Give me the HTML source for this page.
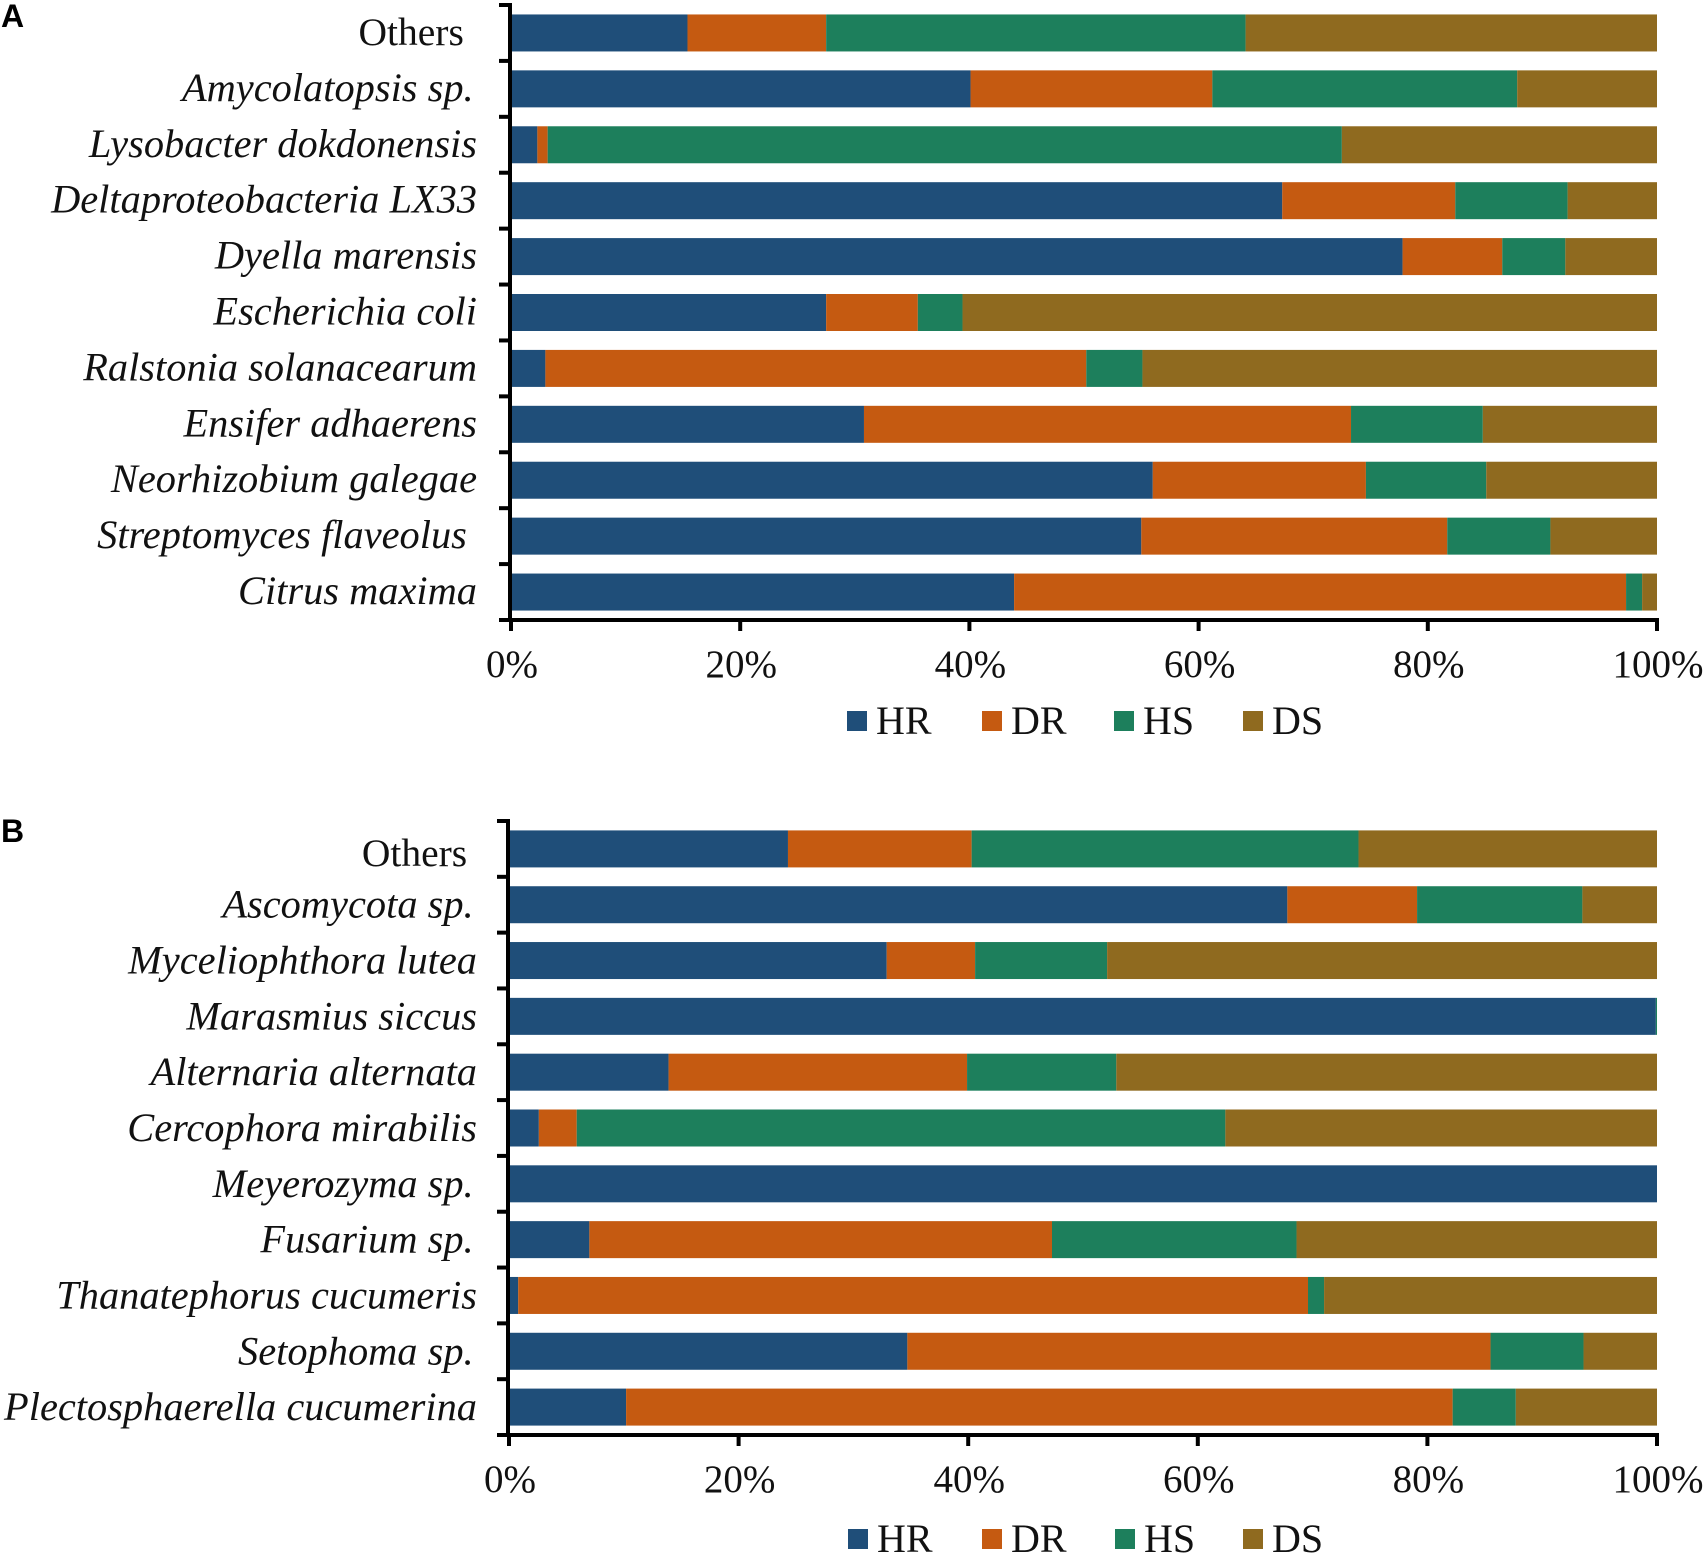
<!DOCTYPE html>
<html>
<head>
<meta charset="utf-8">
<title>Stacked bar charts</title>
<style>
html,body{margin:0;padding:0;background:#fff;}
svg{display:block;}
text{font-family:"Liberation Serif",serif;fill:#111;}
</style>
</head>
<body>
<svg id="figure" width="1708" height="1557" viewBox="0 0 1708 1557" xmlns="http://www.w3.org/2000/svg"></svg>
<script>
const seriesNames = ['HR', 'DR', 'HS', 'DS'];
const seriesColors = ['#1f4e79', '#c55a11', '#1d7f5c', '#8f6a1f'];
const xTicks = [0, 20, 40, 60, 80, 100];

const categoriesA = ['Others\u00a0\u200a', 'Amycolatopsis sp.\u200a', 'Lysobacter dokdonensis', 'Deltaproteobacteria LX33', 'Dyella marensis', 'Escherichia coli', 'Ralstonia solanacearum', 'Ensifer adhaerens', 'Neorhizobium galegae', 'Streptomyces flaveolus\u00a0', 'Citrus maxima'];
const hrA = [15.4, 40.1, 2.3, 67.3, 77.8, 27.5, 3.0, 30.8, 56.0, 55.0, 43.9];
const drA = [12.1, 21.1, 0.9, 15.1, 8.7, 8.0, 47.2, 42.5, 18.6, 26.7, 53.4];
const hsA = [36.6, 26.6, 69.3, 9.8, 5.5, 3.9, 4.9, 11.5, 10.5, 9.0, 1.4];
const dsA = [35.9, 12.2, 27.5, 7.8, 8.0, 60.6, 44.9, 15.2, 14.9, 9.3, 1.3];

const categoriesB = ['Others\u00a0', 'Ascomycota sp.\u200a', 'Myceliophthora lutea', 'Marasmius siccus', 'Alternaria alternata', 'Cercophora mirabilis', 'Meyerozyma sp.\u200a', 'Fusarium sp.\u200a', 'Thanatephorus cucumeris', 'Setophoma sp.\u200a', 'Plectosphaerella cucumerina'];
const hrB = [24.3, 67.8, 32.9, 99.9, 13.9, 2.6, 100, 7.0, 0.8, 34.7, 10.2];
const drB = [16.0, 11.3, 7.7, 0, 26.0, 3.3, 0, 40.3, 68.8, 50.8, 72.0];
const hsB = [33.7, 14.4, 11.5, 0.1, 13.0, 56.5, 0, 21.3, 1.4, 8.1, 5.5];
const dsB = [26.0, 6.5, 47.9, 0, 47.1, 37.6, 0, 31.4, 29.0, 6.4, 12.3];

const SVG_NS = 'http://www.w3.org/2000/svg';
const svg = document.getElementById('figure');

function make(parent, tag, attrs, text) {
  const el = document.createElementNS(SVG_NS, tag);
  for (const k in attrs) el.setAttribute(k, attrs[k]);
  if (text !== undefined) el.textContent = text;
  parent.appendChild(el);
  return el;
}

function slug(s) {
  return s.trim().toLowerCase().replace(/[^a-z0-9]+/g, '-');
}

function drawPanel(panelId, letter, letterY, box, categories, series) {
  const group = make(svg, 'g', {});
  
  

  const xScale = v => box.x0 + (box.x1 - box.x0) * v / 100;
  const band = (box.yBottom - box.yTop) / categories.length;
  const yCenter = i => box.yTop + band * (i + 0.5);

  const panelLabel = make(group, 'text', {x: 1, y: letterY, 'font-size': 32, 'font-weight': 'bold', style: 'font-family:"Liberation Sans",sans-serif;fill:#000'}, letter);
  
  

  categories.forEach((cat, i) => {
    let cum = 0;
    series.forEach((vals, s) => {
      const bar = make(group, 'rect', {
        x: xScale(cum),
        y: yCenter(i) - box.barH / 2,
        width: xScale(cum + vals[i]) - xScale(cum),
        height: box.barH,
        fill: seriesColors[s]
      });
      
      
      cum += vals[i];
    });
    const isOthers = cat.trim() === 'Others';
    const label = make(group, 'text', {
      x: box.labelX,
      y: yCenter(i) + box.labelDy + (isOthers ? box.othersDy : 0),
      'text-anchor': 'end',
      'font-size': isOthers ? 39.5 : 40.4,
      'font-style': isOthers ? 'normal' : 'italic'
    }, cat);
    
    
  });

  const yAxis = make(group, 'line', {x1: box.x0 - 1, x2: box.x0 - 1, y1: box.yTop - 2, y2: box.yBottom + 2, stroke: '#000', 'stroke-width': 4});
  
  
  const xAxis = make(group, 'line', {x1: box.x0 - 1, x2: box.x1 + 2, y1: box.yBottom, y2: box.yBottom, stroke: '#000', 'stroke-width': 4});
  
  

  for (let i = 0; i <= categories.length; i++) {
    const yt = box.yTop + band * i;
    const tick = make(group, 'line', {x1: box.x0 - 12, x2: box.x0, y1: yt, y2: yt, stroke: '#000', 'stroke-width': 4});
    
    
  }

  xTicks.forEach(t => {
    const px = xScale(t);
    const tick = make(group, 'line', {x1: px, x2: px, y1: box.yBottom, y2: box.yBottom + 11, stroke: '#000', 'stroke-width': 4});
    
    
    const tl = make(group, 'text', {x: px + 1, y: box.yBottom + 57, 'text-anchor': 'middle', 'font-size': 39}, t + '%');
    
    
  });

  seriesNames.forEach((name, s) => {
    const lx = box.legendX[s];
    const swatch = make(group, 'rect', {x: lx, y: box.legendY, width: 20, height: 20, fill: seriesColors[s]});
    
    
    const lt = make(group, 'text', {x: lx + 29, y: box.legendY + 23, 'font-size': 40}, name);
    
    
  });
}

drawPanel('a', 'A', 27, {x0: 511, x1: 1657, yTop: 5, yBottom: 620, barH: 37, labelX: 477, labelDy: 12, othersDy: 0, legendX: [847, 982, 1114, 1243], legendY: 711}, categoriesA, [hrA, drA, hsA, dsA]);
drawPanel('b', 'B', 842, {x0: 509, x1: 1657, yTop: 821, yBottom: 1435, barH: 37, labelX: 477, labelDy: 13, othersDy: 4, legendX: [848, 982, 1115, 1243], legendY: 1529}, categoriesB, [hrB, drB, hsB, dsB]);
</script>
</body>
</html>
